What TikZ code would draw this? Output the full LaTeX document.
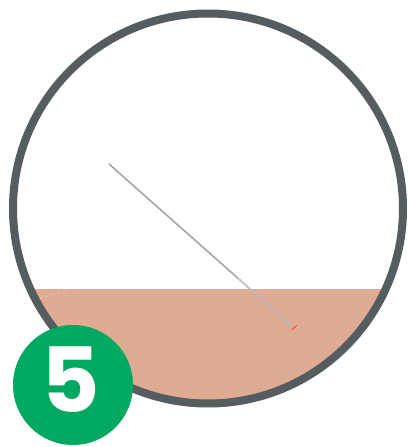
\documentclass[tikz,border=0pt]{standalone}
\usepackage{fontspec}
\setmainfont{Poppins}
\usetikzlibrary{calc}
\definecolor{ring}{HTML}{565D60}
\definecolor{skin}{HTML}{E0AB93}
\definecolor{badge}{HTML}{00A862}
\definecolor{needle}{HTML}{A2A2A4}
\tikzset{
  ringline/.style={draw=ring, line width=8pt},
  badgecircle/.style={circle, fill=badge, minimum size=120pt, inner sep=0pt},
  badgetext/.style={text=white, inner sep=0pt, text depth=0pt, text height=64pt,
    anchor=base, font=\bfseries\fontsize{90}{90}\selectfont}
}
\begin{document}
\begin{tikzpicture}[x=1pt,y=-1pt]
\useasboundingbox (0,0) rectangle (408,447);
\coordinate (c) at (208,208.5);
\begin{scope}
  \clip (c) circle (195);
  \fill[white] (c) circle (195);
  \fill[skin] (0,289) rectangle (408,447);
  \draw[white, opacity=0.5, dashed, line width=0.5pt] (40,298) -- (68,290);
\end{scope}
\coordinate (n1) at (109,164);
\coordinate (n2) at (293,327);
\coordinate (nm) at ($(n1)!0.7!(n2)$);
\draw[needle, line width=1.5pt] (n1) -- (n2);
\draw[white, opacity=0.55, line width=0.6pt] (nm) -- (n2);
\draw[red!60!skin, line width=0.8pt] (292,330) -- (297,325);
\draw[ringline] (c) circle (195);
\node[badgecircle] (b) at (73,385) {};
\node[badgetext] (five) at (71,412) {5};
\end{tikzpicture}
\end{document}
